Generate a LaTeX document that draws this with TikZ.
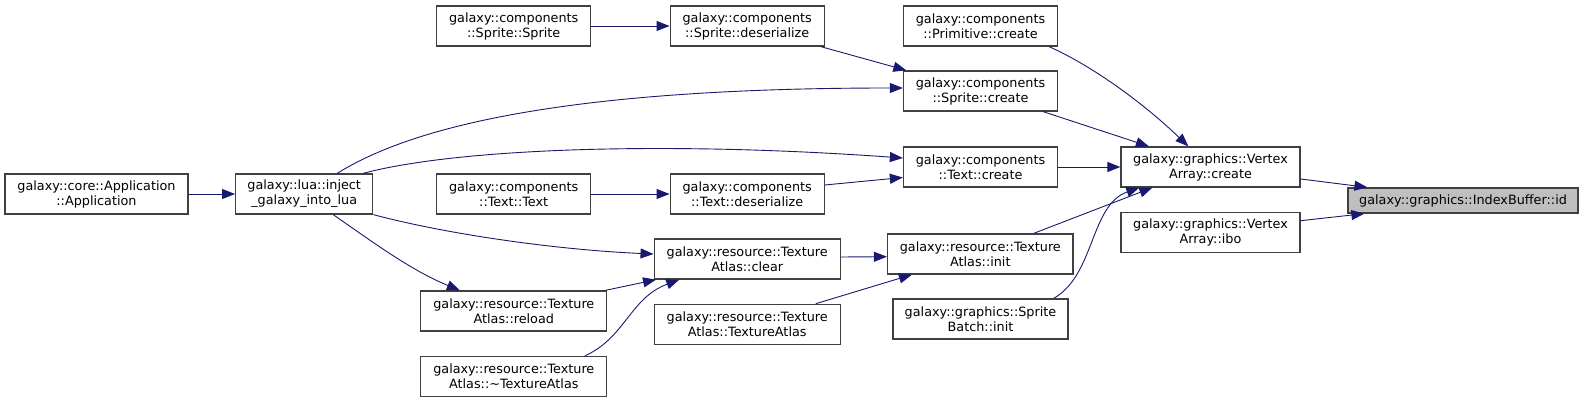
\documentclass[tikz,border=0pt]{standalone}
\usepackage{fontspec}
\setmainfont{DejaVu Sans}
\usetikzlibrary{arrows.meta}
\definecolor{edgeblue}{HTML}{191970}
\definecolor{boxline}{HTML}{404040}
\definecolor{hilite}{HTML}{BFBFBF}
\tikzset{
  fn/.style={draw=boxline, line width=1.3pt, fill=white, inner sep=0pt, minimum height=40pt, align=center, font=\fontsize{12.8}{15}\selectfont},
  edge/.style={draw=edgeblue, line width=0.9pt, -{Triangle[length=13pt,width=10pt]}}
}
\begin{document}
\begin{tikzpicture}[x=1pt,y=-1pt]
\useasboundingbox (0,0) rectangle (1584,403);
% nodes
\node[fn, minimum width=183pt] (app) at (96.5,194) {galaxy::core::Application\\::Application};
\node[fn, minimum width=137pt] (inj) at (304.2,194) {galaxy::lua::inject\\\_galaxy\_into\_lua};
\node[fn, minimum width=154pt] (ss) at (513.7,26) {galaxy::components\\::Sprite::Sprite};
\node[fn, minimum width=154pt] (sd) at (747.2,26) {galaxy::components\\::Sprite::deserialize};
\node[fn, minimum width=154pt] (tt) at (513.7,194) {galaxy::components\\::Text::Text};
\node[fn, minimum width=154pt] (td) at (747.2,194) {galaxy::components\\::Text::deserialize};
\node[fn, minimum width=186pt] (clr) at (747.2,259) {galaxy::resource::Texture\\Atlas::clear};
\node[fn, minimum width=186pt] (rel) at (513.8,311) {galaxy::resource::Texture\\Atlas::reload};
\node[fn, minimum width=186pt] (tac) at (747.2,324.3) {galaxy::resource::Texture\\Atlas::TextureAtlas};
\node[fn, minimum width=186pt] (dtor) at (513.8,376.5) {galaxy::resource::Texture\\Atlas::\textasciitilde TextureAtlas};
\node[fn, minimum width=154pt] (prim) at (980.5,26) {galaxy::components\\::Primitive::create};
\node[fn, minimum width=154pt] (scr) at (980.5,91) {galaxy::components\\::Sprite::create};
\node[fn, minimum width=154pt] (tcr) at (980.5,167) {galaxy::components\\::Text::create};
\node[fn, minimum width=185.5pt] (ini) at (980.3,254) {galaxy::resource::Texture\\Atlas::init};
\node[fn, minimum width=175pt] (sbi) at (980.5,319) {galaxy::graphics::Sprite\\Batch::init};
\node[fn, minimum width=179pt] (vac) at (1210.5,167) {galaxy::graphics::Vertex\\Array::create};
\node[fn, minimum width=179pt] (vai) at (1210.5,232.3) {galaxy::graphics::Vertex\\Array::ibo};
\node[fn, minimum width=230pt, minimum height=25pt, fill=hilite] (id) at (1463,200.5) {galaxy::graphics::IndexBuffer::id};
% edges
\draw[edge] (app.east) -- (inj.west);
\draw[edge] ([xshift=33pt]inj.north) .. controls (410,128) and (560,88) .. ([yshift=3pt]scr.west);
\draw[edge] ([xshift=59pt]inj.north) .. controls (450,150) and (650,140) .. ([yshift=9pt]tcr.west);
\draw[edge] (inj.south east) .. controls (450,235) and (560,250) .. ([yshift=5pt]clr.west);
\draw[edge] ([xshift=29pt]inj.south) .. controls (370,240) and (410,270) .. ([xshift=-54pt]rel.north);
\draw[edge] (ss.east) -- (sd.west);
\draw[edge] ([xshift=-4pt]sd.south east) -- ([xshift=3.5pt]scr.north west);
\draw[edge] (tt.east) -- (td.west);
\draw[edge] ([yshift=9pt]td.east) -- ([yshift=-10.5pt]tcr.west);
\draw[edge] ([xshift=-2pt]rel.north east) -- ([xshift=2.5pt]clr.south west);
\draw[edge] ([xshift=71pt]dtor.north) .. controls (625,338) and (630,298) .. ([xshift=25.7pt]clr.south west);
\draw[edge] ([yshift=2pt]clr.east) -- ([yshift=-2.7pt]ini.west);
\draw[edge] ([xshift=-25pt]tac.north east) -- ([xshift=25pt]ini.south west);
\draw[edge] ([xshift=-9pt]prim.south east) .. controls (1090,65) and (1140,100) .. ([xshift=68pt]vac.north west);
\draw[edge] ([xshift=-15pt]scr.south east) -- ([xshift=28.5pt]vac.north west);
\draw[edge] (tcr.east) -- (vac.west);
\draw[edge] ([xshift=-40pt]ini.north east) -- ([xshift=32pt]vac.south west);
\draw[edge] ([xshift=-15pt]sbi.north east) .. controls (1095,275) and (1090,205) .. ([xshift=19pt]vac.south west);
\draw[edge] ([yshift=-12pt]vac.east) -- ([xshift=20pt]id.north west);
\draw[edge] ([yshift=11.6pt]vai.east) -- ([xshift=17pt]id.south west);
\end{tikzpicture}
\end{document}
